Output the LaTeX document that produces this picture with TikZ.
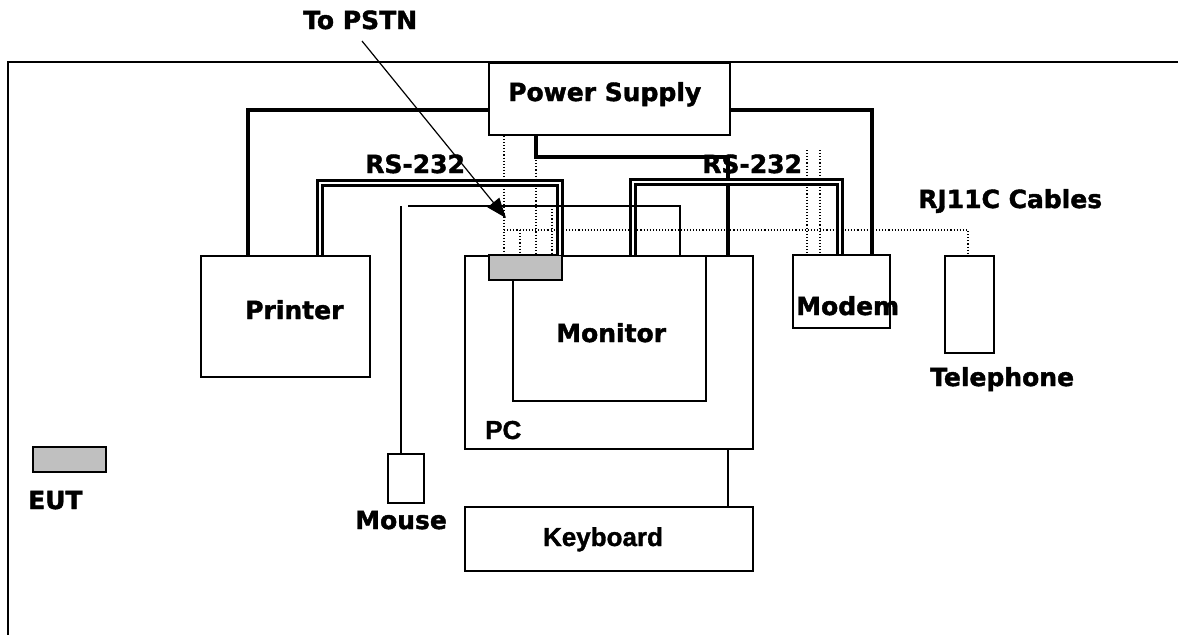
\documentclass[tikz,border=0pt]{standalone}
\usepackage{fontspec}
\newfontfamily\lblfont{DejaVu Sans}[BoldFont={DejaVu Sans Bold}, BoldFeatures={FakeBold=1.6}]
\newfontfamily\arialfont{Liberation Sans}[BoldFont={Liberation Sans Bold}, BoldFeatures={FakeBold=1.2}]
\usetikzlibrary{arrows.meta}
\definecolor{eutgrey}{RGB}{192,192,192}
\tikzset{
  box/.style={draw, line width=1.8pt, inner sep=0pt, anchor=north west, fill=white},
  lbl/.style={font=\lblfont\bfseries\fontsize{25pt}{30pt}\selectfont, inner sep=0pt, anchor=base west},
  lbltwo/.style={font=\arialfont\bfseries\fontsize{26pt}{30pt}\selectfont, inner sep=0pt, anchor=base west},
  power/.style={line width=3.6pt},
  serial/.style={double=white, line width=2.8pt, double distance=1.6pt},
  dots/.style={line width=1.1pt, dash pattern=on 1.1pt off 2pt},
  cable/.style={line width=1.4pt},
}
\begin{document}
\begin{tikzpicture}[x=1pt, y=-1pt]
\useasboundingbox (0,0) rectangle (1178,635);
% frame
\draw[line width=2.2pt] (1178,62) -- (8,62) -- (8,635);

% boxes
\node[box, minimum width=241pt, minimum height=72pt] (ps) at (488,62) {};
\node[box, minimum width=169pt, minimum height=121pt] (printer) at (200,255) {};
\node[box, minimum width=288pt, minimum height=193pt] (pc) at (464,255) {};
\node[box, minimum width=193pt, minimum height=145pt] (monitor) at (512,255) {};
\node[box, minimum width=97pt, minimum height=73pt] (modem) at (792,254) {};
\node[box, minimum width=49pt, minimum height=97pt] (phone) at (944,255) {};
\node[box, minimum width=36pt, minimum height=49pt] (mouse) at (387,453) {};
\node[box, minimum width=288pt, minimum height=64pt] (keyboard) at (464,506) {};
\node[box, line width=2.4pt, fill=eutgrey, minimum width=73pt, minimum height=25pt] (conn) at (488,254) {};
\node[box, line width=2.2pt, fill=eutgrey, minimum width=73pt, minimum height=25pt] (eut) at (32,446) {};

% junction coordinates
\coordinate (pl) at (248,110);
\coordinate (pm) at (872,110);
\coordinate (ppa) at (536,157);
\coordinate (ppb) at (728,157);
\coordinate (sla) at (320,183);
\coordinate (slb) at (560,183);
\coordinate (sra) at (633,182);
\coordinate (srb) at (840,182);
\coordinate (ma) at (401,206);
\coordinate (mb) at (408,206);
\coordinate (mc) at (680,206);
\coordinate (kb) at (728,480);
\coordinate (da) at (504,230);
\coordinate (dc) at (520,230);
\coordinate (dd) at (552,206);
\coordinate (dt) at (968,230);
\coordinate (dma) at (807,150);
\coordinate (dmb) at (820,150);
\coordinate (pstnstart) at (362,41);
\coordinate (pstnend) at (506,218);

% dotted RJ11 / mains lines
\draw[dots] (ps.south -| da) -- (conn.north -| da);
\draw[dots] (ppa) -- (conn.north -| ppa);
\draw[dots] (dc) -- (conn.north -| dc);
\draw[dots] (dd) -- (conn.north -| dd);
\draw[dots] (da) -- (dt) -- (phone.north -| dt);
\draw[dots] (dma) -- (modem.north -| dma);
\draw[dots] (dmb) -- (modem.north -| dmb);

% power cords
\draw[power] (ps.west |- pl) -- (pl) -- (printer.north -| pl);
\draw[power] (ps.east |- pm) -- (pm) -- ([yshift=-2pt]modem.north -| pm);
\draw[power] (ps.south -| ppa) -- (ppa) -- (ppb) -- (pc.north -| ppb);

% RS-232 cables
\draw[serial] (printer.north -| sla) -- (sla) -- (slb) -- (pc.north -| slb);
\draw[serial] (pc.north -| sra) -- (sra) -- (srb) -- (modem.north -| srb);

% mouse and keyboard cables
\draw[cable] (ma) -- (mouse.north -| ma);
\draw[cable] (mb) -- (mc) -- (pc.north -| mc);
\draw[cable] (pc.south -| kb) -- (keyboard.north -| kb);

% PSTN arrow
\draw[line width=1.2pt, -{Triangle[length=20pt, width=15pt]}] (pstnstart) -- (pstnend);

% labels
\node[lbl] (tpstn) at (303,29) {To PSTN};
\node[lbl] (pstxt) at (508,101) {Power Supply};
\node[lbl] (rsl) at (365,173) {RS-232};
\node[lbl] (rsr) at (702,173) {RS-232};
\node[lbl] (rj) at (918,208) {RJ11C Cables};
\node[lbl] (prt) at (245,319) {Printer};
\node[lbl] (mon) at (556,342) {Monitor};
\node[lbltwo] (pct) at (485,439) {PC};
\node[lbl] (mdt) at (796,315) {Modem};
\node[lbl] (tel) at (930,386) {Telephone};
\node[lbl] (eutt) at (28,509) {EUT};
\node[lbl] (mst) at (355,529) {Mouse};
\node[lbltwo, anchor=base] (kbt) at (603,546) {Keyboard};
\end{tikzpicture}
\end{document}
